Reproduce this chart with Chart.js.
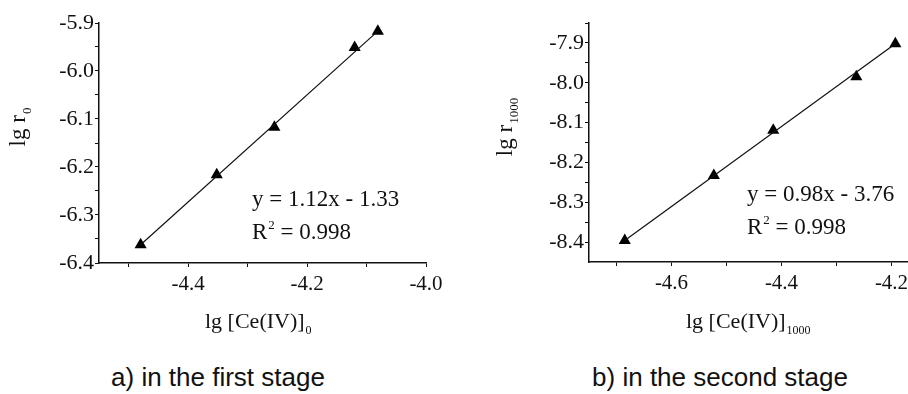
<!DOCTYPE html>
<html>
<head>
<meta charset="utf-8">
<script src="https://cdn.jsdelivr.net/npm/chart.js@4.4.1/dist/chart.umd.min.js"></script>
<style>
  body { margin: 0; background: #fff; width: 908px; height: 394px; overflow: hidden; position: relative; }
  .box { position: absolute; top: 0; height: 340px; }
  #boxA { left: 0; width: 454px; }
  #boxB { left: 454px; width: 480px; }
  .cap { position: absolute; top: 362px; font-family: "Liberation Sans", Arial, sans-serif; font-size: 26px; color: #111; text-align: center; width: 300px; }
</style>
</head>
<body>
<div class="box" id="boxA"><canvas id="chartA"></canvas></div>
<div class="box" id="boxB"><canvas id="chartB"></canvas></div>
<div class="cap" style="left:68px">a) in the first stage</div>
<div class="cap" style="left:570px">b) in the second stage</div>
<script>
// (a) first stage
const xA = [-4.48, -4.352, -4.255, -4.12, -4.081];
const yA = [-6.362, -6.216, -6.117, -5.951, -5.917];
const fitXA = [-4.48, -4.081];
const fitYA = [-6.362, -5.917];
const xTicksA = [-4.5, -4.4, -4.3, -4.2, -4.1, -4.0];
const xLabelsA = ["", "-4.4", "", "-4.2", "", "-4.0"];
const yTicksA = [-6.4, -6.35, -6.3, -6.25, -6.2, -6.15, -6.1, -6.05, -6.0, -5.95, -5.9];
const yLabelsA = ["-6.4", "", "-6.3", "", "-6.2", "", "-6.1", "", "-6.0", "", "-5.9"];

// (b) second stage
const xB = [-4.685, -4.523, -4.415, -4.264, -4.193];
const yB = [-8.396, -8.233, -8.119, -7.985, -7.902];
const fitXB = [-4.685, -4.193];
const fitYB = [-8.396, -7.902];
const xTicksB = [-4.7, -4.6, -4.5, -4.4, -4.3, -4.2];
const xLabelsB = ["", "-4.6", "", "-4.4", "", "-4.2"];
const yTicksB = [-8.4, -8.35, -8.3, -8.25, -8.2, -8.15, -8.1, -8.05, -8.0, -7.95, -7.9, -7.85];
const yLabelsB = ["-8.4", "", "-8.3", "", "-8.2", "", "-8.1", "", "-8.0", "", "-7.9", ""];

const SERIF = "Liberation Serif";
Chart.defaults.font.family = SERIF;
Chart.defaults.color = "#111";

function toPoints(xs, ys) {
  return xs.map((x, i) => ({ x: x, y: ys[i] }));
}

// text with a subscript (or superscript when shift < 0)
function drawSub(ctx, x, y, main, sub, size, subSize, shift) {
  ctx.font = size + "px " + SERIF;
  ctx.fillText(main, x, y);
  const w = ctx.measureText(main).width;
  ctx.font = subSize + "px " + SERIF;
  ctx.fillText(sub, x + w + 1, y + shift);
  return w + 1 + ctx.measureText(sub).width;
}

const notesPlugin = {
  id: "notes",
  afterDraw(chart, args, o) {
    const ctx = chart.ctx;
    ctx.save();
    ctx.fillStyle = "#111";
    ctx.textBaseline = "alphabetic";
    ctx.textAlign = "left";
    // equation
    ctx.font = "23px " + SERIF;
    ctx.fillText(o.eq, o.eqX, o.eqY);
    const wR = drawSub(ctx, o.eqX, o.eqY + 33, "R", "2", 23, 13, -10);
    ctx.font = "23px " + SERIF;
    ctx.fillText(" = " + o.r2, o.eqX + wR, o.eqY + 33);
    // x title
    drawSub(ctx, o.xtX, o.xtY, "lg [Ce(IV)]", o.xSub, 22, 12, 6);
    // y title, rotated
    ctx.translate(o.ytX, o.ytY);
    ctx.rotate(-Math.PI / 2);
    ctx.font = "23px " + SERIF;
    const w1 = ctx.measureText("lg r").width;
    ctx.font = "13px " + SERIF;
    const w2 = ctx.measureText(o.ySub).width;
    drawSub(ctx, -(w1 + w2 + 1) / 2, 0, "lg r", o.ySub, 23, 13, 6);
    ctx.restore();
  }
};

function makeChart(id, d) {
  const ctx = document.getElementById(id).getContext("2d");
  return new Chart(ctx, {
    type: "scatter",
    data: {
      datasets: [
        {
          data: toPoints(d.fitX, d.fitY),
          showLine: true,
          borderColor: "#111",
          borderWidth: 1.2,
          pointRadius: 0
        },
        {
          data: toPoints(d.xs, d.ys),
          pointStyle: "triangle",
          pointRadius: 7,
          borderWidth: 0,
          backgroundColor: "#000",
          borderColor: "#000"
        }
      ]
    },
    options: {
      responsive: true,
      maintainAspectRatio: false,
      animation: false,
      layout: { padding: { top: 23, right: d.padRight, left: 0, bottom: 0 } },
      plugins: {
        legend: { display: false },
        tooltip: { enabled: false },
        notes: d.notes
      },
      scales: {
        x: {
          type: "linear",
          min: d.xMin,
          max: d.xMax,
          afterBuildTicks: s => { s.ticks = d.xTicks.map(v => ({ value: v })); },
          afterFit: s => { s.height = d.xHeight; },
          ticks: {
            autoSkip: false,
            maxRotation: 0,
            padding: 5,
            color: "#111",
            font: { family: SERIF, size: 21 },
            callback: (v, i) => d.xLabels[i]
          },
          grid: { drawOnChartArea: false, drawTicks: true, tickLength: 4, color: "#111", lineWidth: 1 },
          border: { display: true, color: "#111", width: 1.5 }
        },
        y: {
          type: "linear",
          min: d.yMin,
          max: d.yMax,
          afterBuildTicks: s => { s.ticks = d.yTicks.map(v => ({ value: v })); },
          afterFit: s => { s.width = d.yWidth; },
          ticks: {
            autoSkip: false,
            padding: 1,
            color: "#111",
            font: { family: SERIF, size: 22 },
            callback: (v, i) => d.yLabels[i]
          },
          grid: { drawOnChartArea: false, drawTicks: true, tickLength: 4, color: "#111", lineWidth: 1 },
          border: { display: true, color: "#111", width: 1.5 }
        }
      }
    },
    plugins: [notesPlugin]
  });
}

makeChart("chartA", {
  xs: xA, ys: yA, fitX: fitXA, fitY: fitYA,
  xMin: -4.55, xMax: -4.0, yMin: -6.4, yMax: -5.9,
  xTicks: xTicksA, xLabels: xLabelsA, yTicks: yTicksA, yLabels: yLabelsA,
  padRight: 28, yWidth: 99, xHeight: 77,
  notes: { eq: "y = 1.12x - 1.33", r2: "0.998", eqX: 252, eqY: 206,
           xSub: "0", xtX: 205, xtY: 328, ySub: "0", ytX: 25, ytY: 127 }
});

makeChart("chartB", {
  xs: xB, ys: yB, fitX: fitXB, fitY: fitYB,
  xMin: -4.75, xMax: -4.15, yMin: -8.45, yMax: -7.85,
  xTicks: xTicksB, xLabels: xLabelsB, yTicks: yTicksB, yLabels: yLabelsB,
  padRight: 15, yWidth: 135, xHeight: 78,
  notes: { eq: "y = 0.98x - 3.76", r2: "0.998", eqX: 293, eqY: 201,
           xSub: "1000", xtX: 232, xtY: 328, ySub: "1000", ytX: 58, ytY: 127 }
});
</script>
</body>
</html>
